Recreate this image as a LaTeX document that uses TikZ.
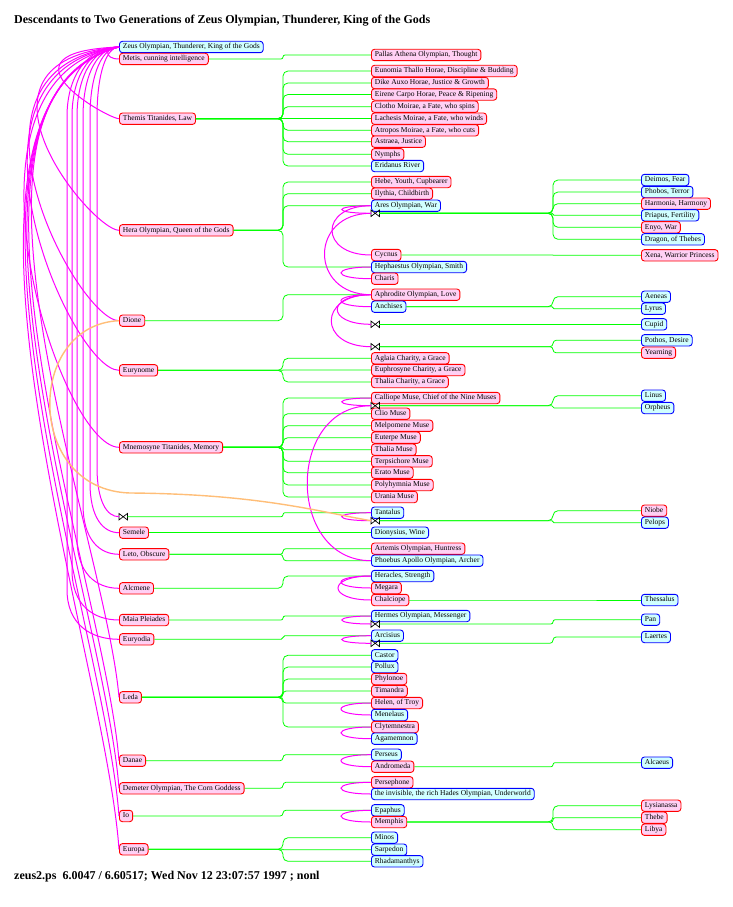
\documentclass[tikz,border=0pt]{standalone}
\usepackage{fontspec}
\setmainfont{Liberation Serif}
\usetikzlibrary{calc}
\definecolor{pinkfill}{RGB}{255,208,244}
\definecolor{cyanfill}{RGB}{208,255,255}
\definecolor{tangerine}{RGB}{255,190,120}
\definecolor{spousemag}{RGB}{255,0,255}
\definecolor{lineage}{RGB}{0,255,0}
\newcommand{\boxfont}{\fontsize{7.5}{8}\selectfont}
\begin{document}
\begin{tikzpicture}[x=1pt,y=-1pt,
  person/.style={rounded corners=3pt,line width=0.9pt,inner xsep=3.5pt,inner ysep=2.2pt,text height=5.4pt,text depth=1.6pt,anchor=west,font=\boxfont},
  fem/.style={person,draw=red,fill=pinkfill},
  mal/.style={person,draw=blue,fill=cyanfill},
  bond/.style={anchor=west,inner sep=0pt,minimum width=8pt,minimum height=6pt},
  kin/.style={draw=lineage,line width=0.8pt},
  wed/.style={draw=spousemag,line width=1pt},
  wedx/.style={draw=tangerine,line width=1.4pt}]
\useasboundingbox (0,0) rectangle (733,907);
% Zeus, his consorts, children and grandchildren
\node[anchor=west,inner sep=0pt,font=\fontsize{12}{14}\selectfont\bfseries] (title) at (14,21) {Descendants to Two Generations of Zeus Olympian, Thunderer, King of the Gods};
\node[anchor=west,inner sep=0pt,font=\fontsize{12}{14}\selectfont\bfseries] (stamp) at (14,877) {zeus2.ps~~6.0047 / 6.60517; Wed Nov 12 23:07:57 1997 ; nonl};
% first column: Zeus and consorts
\foreach \n/\y/\st/\txt in {zeus/47/mal/{Zeus Olympian, Thunderer, King of the Gods}, metis/59/fem/{Metis, cunning intelligence}, themis/118.7/fem/{Themis Titanides, Law}, hera/230.3/fem/{Hera Olympian, Queen of the Gods}, dione/320.7/fem/{Dione}, eurynome/370.3/fem/{Eurynome}, mnemosyne/447.3/fem/{Mnemosyne Titanides, Memory}, semele/532.7/fem/{Semele}, leto/554.3/fem/{Leto, Obscure}, alcmene/588.3/fem/{Alcmene}, maia/620/fem/{Maia Pleiades}, euryodia/639.3/fem/{Euryodia}, leda/697.3/fem/{Leda}, danae/760.7/fem/{Danae}, demeter/788.3/fem/{Demeter Olympian, The Corn Goddess}, io/816/fem/{Io}, europa/849.3/fem/{Europa}}
  {\node[\st] (\n) at (119,\y) {\txt};}
% second column: children
\foreach \n/\y/\st/\txt in {pallas/55/fem/{Pallas Athena Olympian, Thought}, eunomia/71/fem/{Eunomia Thallo Horae, Discipline \& Budding}, dike/83/fem/{Dike Auxo Horae, Justice \& Growth}, eirene/94.5/fem/{Eirene Carpo Horae, Peace \& Ripening}, clotho/106.7/fem/{Clotho Moirae, a Fate, who spins}, lachesis/118.7/fem/{Lachesis Moirae, a Fate, who winds}, atropos/130.3/fem/{Atropos Moirae, a Fate, who cuts}, astraea/141.7/fem/{Astraea, Justice}, nymphs/154.3/fem/{Nymphs}, eridanus/166/mal/{Eridanus River},
  hebe/182/fem/{Hebe, Youth, Cupbearer}, ilythia/193.7/fem/{Ilythia, Childbirth}, ares/205.7/mal/{Ares Olympian, War}, cycnus/255/fem/{Cycnus}, hephaestus/267/mal/{Hephaestus Olympian, Smith}, charis/278.7/fem/{Charis}, aphrodite/294.7/fem/{Aphrodite Olympian, Love}, anchises/306.7/mal/{Anchises},
  aglaia/358.3/fem/{Aglaia Charity, a Grace}, euphrosyne/370/fem/{Euphrosyne Charity, a Grace}, thaliac/382/fem/{Thalia Charity, a Grace},
  calliope/398/fem/{Calliope Muse, Chief of the Nine Muses}, clio/413.7/fem/{Clio Muse}, melpomene/425.7/fem/{Melpomene Muse}, euterpe/437.7/fem/{Euterpe Muse}, thaliam/449.7/fem/{Thalia Muse}, terpsichore/461.3/fem/{Terpsichore Muse}, erato/472.7/fem/{Erato Muse}, polyhymnia/485/fem/{Polyhymnia Muse}, urania/497/fem/{Urania Muse},
  tantalus/512.7/mal/{Tantalus}, dionysius/532.7/mal/{Dionysius, Wine}, artemis/548.7/fem/{Artemis Olympian, Huntress}, apollo/560.7/mal/{Phoebus Apollo Olympian, Archer}, heracles/576/mal/{Heracles, Strength}, megara/588/fem/{Megara}, chalciope/600/fem/{Chalciope}, hermes/616/mal/{Hermes Olympian, Messenger}, arcisius/635.7/mal/{Arcisius},
  castor/655.3/mal/{Castor}, pollux/667/mal/{Pollux}, phylonoe/679/fem/{Phylonoe}, timandra/691/fem/{Timandra}, helen/703/fem/{Helen, of Troy}, menelaus/715/mal/{Menelaus}, clytemnestra/727/fem/{Clytemnestra}, agamemnon/738.7/mal/{Agamemnon},
  perseus/754.7/mal/{Perseus}, andromeda/766.7/fem/{Andromeda}, persephone/782.3/fem/{Persephone}, hades/794/mal/{the invisible, the rich Hades Olympian, Underworld}, epaphus/810.3/mal/{Epaphus}, memphis/822/fem/{Memphis}, minos/837.7/mal/{Minos}, sarpedon/849.7/mal/{Sarpedon}, rhadamanthys/861.3/mal/{Rhadamanthys}}
  {\node[\st] (\n) at (371,\y) {\txt};}
% third column: grandchildren
\foreach \n/\y/\st/\txt in {deimos/180/mal/{Deimos, Fear}, phobos/192/mal/{Phobos, Terror}, harmonia/203.7/fem/{Harmonia, Harmony}, priapus/215.3/mal/{Priapus, Fertility}, enyo/227.3/fem/{Enyo, War}, dragon/239.3/mal/{Dragon, of Thebes}, xena/255.3/fem/{Xena, Warrior Princess}, aeneas/296.7/mal/{Aeneas}, lyrus/308.7/mal/{Lyrus}, cupid/324.3/mal/{Cupid}, pothos/340.3/mal/{Pothos, Desire}, yearning/352.7/fem/{Yearning}, linus/395.7/mal/{Linus}, orpheus/408/mal/{Orpheus}, niobe/510.7/fem/{Niobe}, pelops/522.7/mal/{Pelops}, thessalus/600/mal/{Thessalus}, pan/619.7/mal/{Pan}, laertes/637/mal/{Laertes}, alcaeus/762.7/mal/{Alcaeus}, lysianassa/805.7/fem/{Lysianassa}, thebe/817.7/fem/{Thebe}, libya/829.7/fem/{Libya}}
  {\node[\st] (\n) at (641,\y) {\txt};}
% marriage marks
\node[bond] (wz) at (119,516.7) {};
\foreach \n/\y in {waa/213.3, wcu/324.3, wpo/346.7, wca/405.7, wta/520.7, whe/624, war/643.3}
  {\node[bond] (\n) at (371,\y) {};}
\foreach \n in {wz,waa,wcu,wpo,wca,wta,whe,war}
  {\draw[black,line width=0.7pt] (\n.south west) -- (\n.north west) -- (\n.south east) -- (\n.north east) -- cycle;}
% descent
\foreach \pa/\cs in {metis/{pallas}, themis/{eunomia,dike,eirene,clotho,lachesis,atropos,astraea,nymphs,eridanus}, hera/{hebe,ilythia,ares,hephaestus}, dione/{aphrodite}, eurynome/{aglaia,euphrosyne,thaliac}, mnemosyne/{calliope,clio,melpomene,euterpe,thaliam,terpsichore,erato,polyhymnia,urania}, wz/{tantalus}, semele/{dionysius}, leto/{artemis,apollo}, alcmene/{heracles}, maia/{hermes}, euryodia/{arcisius}, leda/{castor,pollux,phylonoe,timandra,helen,clytemnestra}, danae/{perseus}, demeter/{persephone}, io/{epaphus}, europa/{minos,sarpedon,rhadamanthys},
  waa/{deimos,phobos,harmonia,priapus,enyo,dragon}, cycnus/{xena}, anchises/{aeneas,lyrus}, wcu/{cupid}, wpo/{pothos,yearning}, wca/{linus,orpheus}, wta/{niobe,pelops}, chalciope/{thessalus}, whe/{pan}, war/{laertes}, andromeda/{alcaeus}, memphis/{lysianassa,thebe,libya}}
  {\foreach \ch in \cs {\draw[kin] let \p1=($(\ch.west)-(\pa.east)$), \n1={min(5,abs(\y1)/2)} in [rounded corners=\n1] (\pa.east) -| ([xshift=-88pt]\ch.west) -- (\ch.west);}}
% Zeus's unions: wide loops
\draw[wed] (zeus.west) .. controls +(-15,0) and +(-15,0) .. (metis.west);
\foreach \n/\k/\a/\b/\c in {themis/130/5/11/0, hera/170/13/27/0, dione/180/19/41/0, eurynome/180/23/48/0, mnemosyne/180/28/60/0, leda/190/46/14/162, danae/196/50/14/178, demeter/200/52/14/185, io/204/54/14/192, europa/208/56/14/200}
  {\draw[wed] (zeus.west) .. controls +(-\k,\a) and +(-\b,-\c) .. (\n.west);}
% Zeus's unions: straight drops
\foreach \n/\d in {wz/22, semele/29, leto/36, alcmene/42, maia/47, euryodia/52}
  {\draw[wed] (zeus.west) .. controls +(-0.55*\d,0) and +(0,-45) .. ($(zeus.west)+(-\d,70)$) -- ($(\n.west)+(-\d,-50)$) .. controls +(0,35) and +(-0.55*\d,0) .. (\n.west);}
% unions among the children
\foreach \a/\b/\w in {ares/waa/39, aphrodite/waa/62, ares/cycnus/52, hephaestus/charis/40, aphrodite/anchises/40, aphrodite/wcu/45, aphrodite/wpo/53, calliope/wca/39, apollo/wca/85, tantalus/wta/39, heracles/megara/40, heracles/chalciope/44, hermes/whe/39, arcisius/war/39, helen/menelaus/40, clytemnestra/agamemnon/40, perseus/andromeda/40, persephone/hades/40, epaphus/memphis/40}
  {\draw[wed] (\a.west) .. controls +(-\w,0) and +(-\w,0) .. (\b.west);}
\draw[wedx] (dione.west) .. controls (25,325) and (25,490) .. (130,493) .. controls (260,494) and (320,512) .. (wta.west);
\end{tikzpicture}
\end{document}
